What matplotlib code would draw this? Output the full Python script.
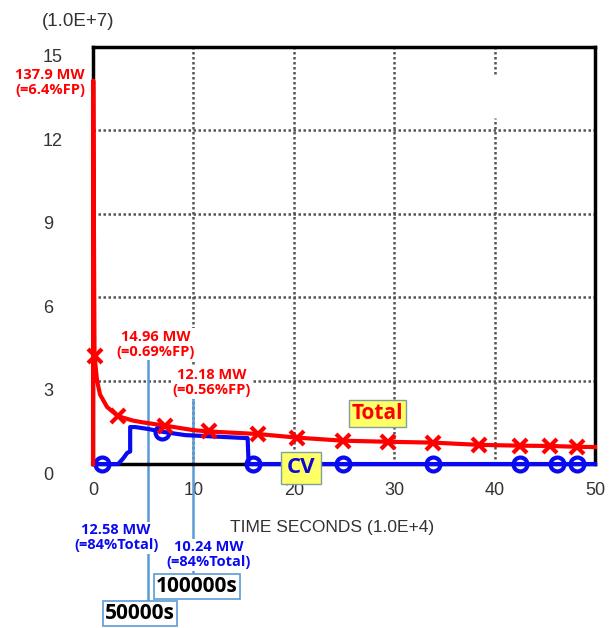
import matplotlib.pyplot as plt
import matplotlib.transforms as mtransforms

# time in 1.0E+4 s, power in 1.0E+7 W
total_time = [0, 0.02, 0.15, 0.4, 0.7, 1.4, 2.5, 4.0, 5.0, 7.2, 10.0, 11.6, 16.4,
              20.3, 24.9, 29.4, 33.9, 38.4, 42.5, 45.5, 48.2, 50.0]
total_power = [0, 13.79, 3.9, 3.0, 2.5, 2.05, 1.72, 1.56, 1.496, 1.38, 1.218, 1.17, 1.08,
               0.95, 0.84, 0.80, 0.77, 0.69, 0.66, 0.65, 0.62, 0.61]
total_marks = [2, 6, 9, 11, 12, 13, 14, 15, 16, 17, 18, 19, 20]

cv_time = [0, 0.9, 2.5, 3.0, 3.4, 3.7, 3.7, 4.2, 5.5, 6.9, 9.2, 15.4, 15.5, 15.9,
           24.9, 33.9, 42.5, 46.2, 48.2, 50.0]
cv_power = [0, 0, 0, 0.2, 0.4, 0.45, 1.33, 1.33, 1.26, 1.16, 1.04, 0.93, 0, 0,
            0, 0, 0, 0, 0, 0]
cv_marks = [1, 9, 13, 14, 15, 16, 17, 18]

xticks = [0, 10, 20, 30, 40, 50]
yticks = [0, 3, 6, 9, 12, 15]

RED = '#ff0000'
BLUE = '#0a0af0'
PTR = '#5b9bd5'
GRAY = '#333333'

plt.rcParams['font.family'] = ['Liberation Sans', 'DejaVu Sans']

fig = plt.figure(figsize=(6.14, 6.28), dpi=100)
ax = fig.add_axes([0.1515, 0.2611, 0.8175, 0.6641])
ax.set_xlim(0, 50)
ax.set_ylim(0, 15)

# dotted grid
for x in xticks[1:-1]:
    if x == 40:
        ax.axvline(x, ymin=0, ymax=0.83, color='#555555', lw=1.8, ls=(0, (1, 1)), zorder=1)
        ax.axvline(x, ymin=0.935, ymax=1, color='#555555', lw=1.8, ls=(0, (1, 1)), zorder=1)
    else:
        ax.axvline(x, color='#555555', lw=1.8, ls=(0, (1, 1)), zorder=1)
for y in yticks[1:-1]:
    ax.axhline(y, color='#555555', lw=1.8, ls=(0, (1, 1)), zorder=1)

for s in ax.spines.values():
    s.set_linewidth(2.5)
    s.set_color('black')

ax.plot(cv_time, cv_power, color=BLUE, lw=3, marker='o', ms=10, mfc='none', mew=3,
        markevery=cv_marks, clip_on=False, zorder=4)
ax.plot(total_time, total_power, color=RED, lw=3, marker='x', ms=10, mew=3,
        markevery=total_marks, clip_on=False, zorder=5)

ax.set_xticks(xticks)
ax.set_yticks(yticks)
ax.tick_params(length=0, labelsize=13, colors=GRAY)
ax.tick_params(axis='x', pad=13)
ax.tick_params(axis='y', pad=36)
off = mtransforms.ScaledTranslation(0, -9 / 100, fig.dpi_scale_trans)
for lab in ax.get_yticklabels():
    lab.set_ha('left')
    lab.set_transform(lab.get_transform() + off)

ax.text(-1.5, 15.9, '(1.0E+7)', fontsize=13.5, color=GRAY, ha='center', va='center')
ax.text(23.8, -2.29, 'TIME SECONDS (1.0E+4)', fontsize=12.5, color=GRAY, ha='center', va='center')

# pointer lines
ax.plot([5.5, 5.5], [3.75, -4.9], color=PTR, lw=1.8, clip_on=False, zorder=2)
ax.plot([10, 10], [2.39, -4.05], color=PTR, lw=1.8, clip_on=False, zorder=2)

bold = dict(fontweight='bold', ha='center', va='center', linespacing=1.1,
            family=['Open Sans', 'DejaVu Sans'])
wbox = dict(fc='white', ec='none', pad=1)
ax.text(-0.8, 13.72, '137.9 MW\n(=6.4%FP)', color=RED, fontsize=10.5,
        **{**bold, 'ha': 'right'}, bbox=wbox)
ax.text(6.2, 4.3, '14.96 MW\n(=0.69%FP)', color=RED, fontsize=10.5, bbox=wbox, zorder=6, **bold)
ax.text(11.85, 2.92, '12.18 MW\n(=0.56%FP)', color=RED, fontsize=10.5, bbox=wbox, zorder=6, **bold)
ax.text(2.3, -2.65, '12.58 MW\n(=84%Total)', color=BLUE, fontsize=10.5, bbox=wbox, zorder=6, **bold)
ax.text(11.55, -3.26, '10.24 MW\n(=84%Total)', color=BLUE, fontsize=10.5, bbox=wbox, zorder=6, **bold)

ax.text(28.3, 1.82, 'Total', color=RED, fontsize=15, zorder=6,
        bbox=dict(fc='#ffff66', ec='#7f9f9f', lw=1, pad=2), **bold)
ax.text(20.7, -0.14, 'CV', color='#0a0ad0', fontsize=16, zorder=6,
        bbox=dict(fc='#ffff66', ec='#7f9f9f', lw=1, pad=4), **bold)

ax.text(10.35, -4.41, '100000s', color='black', fontsize=15, zorder=6,
        bbox=dict(fc='white', ec=PTR, lw=1.2, pad=1.5), **bold)
ax.text(4.7, -5.39, '50000s', color='black', fontsize=15, zorder=6,
        bbox=dict(fc='white', ec=PTR, lw=1.2, pad=1.5), **bold)

fig.savefig('out.png', dpi=100)
